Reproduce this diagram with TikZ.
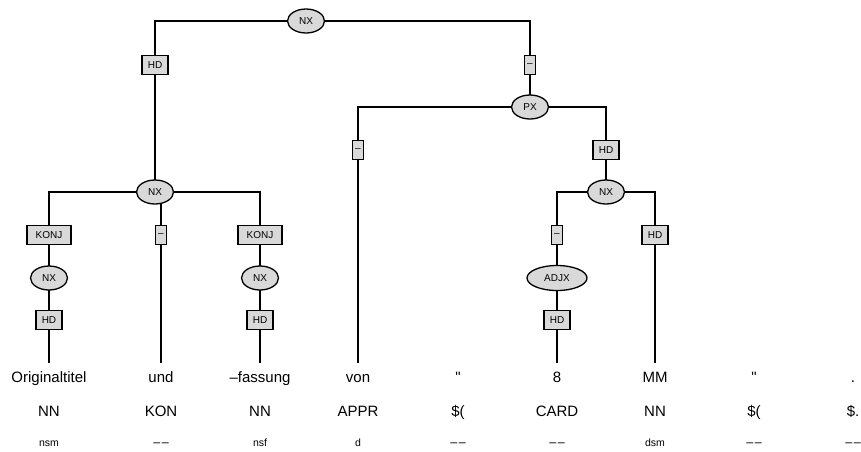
\documentclass[tikz,border=0pt]{standalone}
\usepackage{fontspec}
\setmainfont{Liberation Sans}
\newfontfamily\rawfont{Liberation Sans}[Ligatures=TeXOff]
\usetikzlibrary{shapes.geometric,backgrounds}
\definecolor{gfill}{HTML}{D9D9D9}
\newcommand{\mdash}{{\fontsize{12.5}{14}\selectfont–\kern1.5pt–}}
\tikzset{
  catnode/.style={ellipse, draw, fill=gfill, line width=1.3pt, minimum width=37pt, minimum height=24pt, inner sep=0pt, font=\fontsize{10}{12}\selectfont},
  fnbox/.style={rectangle, draw, fill=gfill, line width=1.3pt, minimum height=19pt, inner sep=0pt, font=\fontsize{10}{12}\selectfont},
  treeedge/.style={line width=1.3pt},
  wordrow/.style={anchor=base, inner xsep=0pt, inner ysep=8pt, text height=11pt, text depth=3pt, font=\fontsize{15}{18}\selectfont},
  posrow/.style={anchor=base, inner sep=0pt, font=\fontsize{15}{18}\selectfont},
  morphrow/.style={anchor=base, inner sep=0pt, font=\fontsize{10.5}{12}\selectfont}
}
\begin{document}
\begin{tikzpicture}[x=1pt,y=-1pt]
\useasboundingbox (0,0) rectangle (861,451);
% words
\node[wordrow] (w1) at (49,382) {Originaltitel};
\node[wordrow] (w2) at (161,382) {und};
\node[wordrow] (w3) at (260,382) {–fassung};
\node[wordrow] (w4) at (358,382) {von};
\node[wordrow] (w5) at (458,382) {\rawfont "};
\node[wordrow] (w6) at (557,382) {8};
\node[wordrow] (w7) at (655,382) {MM};
\node[wordrow] (w8) at (754,382) {\rawfont "};
\node[wordrow] (w9) at (853,382) {.};
% POS
\node[posrow] (p1) at (49,416) {NN};
\node[posrow] (p2) at (161,416) {KON};
\node[posrow] (p3) at (260,416) {NN};
\node[posrow] (p4) at (358,416) {APPR};
\node[posrow] (p5) at (458,416) {\$(};
\node[posrow] (p6) at (557,416) {CARD};
\node[posrow] (p7) at (655,416) {NN};
\node[posrow] (p8) at (754,416) {\$(};
\node[posrow] (p9) at (853,416) {\$.};
% morph
\node[morphrow] (m1) at (49,446) {nsm};
\node[morphrow] (m2) at (161,446) {\mdash};
\node[morphrow] (m3) at (260,446) {nsf};
\node[morphrow] (m4) at (358,446) {d};
\node[morphrow] (m5) at (458,446) {\mdash};
\node[morphrow] (m6) at (557,446) {\mdash};
\node[morphrow] (m7) at (655,446) {dsm};
\node[morphrow] (m8) at (754,446) {\mdash};
\node[morphrow] (m9) at (853,446) {\mdash};
% tree nodes
\node[catnode] (root) at (306,21) {NX};
\node[fnbox, minimum width=26pt] (hd1) at (155,65) {HD};
\node[fnbox, minimum width=11pt] (d1) at (530,65) {–};
\node[catnode] (nxL) at (155,192) {NX};
\node[catnode] (px) at (530,107) {PX};
\node[fnbox, minimum width=44pt] (konj1) at (49,235) {KONJ};
\node[fnbox, minimum width=11pt] (d2) at (161,235) {–};
\node[fnbox, minimum width=44pt] (konj2) at (260,235) {KONJ};
\node[catnode] (nx1) at (49,278) {NX};
\node[catnode] (nx2) at (260,278) {NX};
\node[fnbox, minimum width=26pt] (hd2) at (49,320) {HD};
\node[fnbox, minimum width=26pt] (hd3) at (260,320) {HD};
\node[fnbox, minimum width=11pt] (d3) at (358,150) {–};
\node[fnbox, minimum width=26pt] (hd4) at (606,150) {HD};
\node[catnode] (nxR) at (606,192) {NX};
\node[fnbox, minimum width=11pt] (d4) at (557,235) {–};
\node[fnbox, minimum width=26pt] (hd5) at (655,235) {HD};
\node[catnode, minimum width=60pt, minimum height=25pt] (adjx) at (557,278) {ADJX};
\node[fnbox, minimum width=26pt] (hd6) at (557,320) {HD};
% edges (behind nodes)
\begin{pgfonlayer}{background}
\draw[treeedge] (root.center) -| (hd1.center);
\draw[treeedge] (root.center) -| (d1.center);
\draw[treeedge] (hd1.center) -- (nxL.center);
\draw[treeedge] (d1.center) -- (px.center);
\draw[treeedge] (nxL.center) -| (konj1.center);
\draw[treeedge] (d2.center) -- (d2.center |- nxL.center);
\draw[treeedge] (nxL.center) -| (konj2.center);
\draw[treeedge] (konj1.center) -- (nx1.center);
\draw[treeedge] (nx1.center) -- (hd2.center);
\draw[treeedge] (hd2.center) -- (w1.north);
\draw[treeedge] (d2.center) -- (w2.north);
\draw[treeedge] (konj2.center) -- (nx2.center);
\draw[treeedge] (nx2.center) -- (hd3.center);
\draw[treeedge] (hd3.center) -- (w3.north);
\draw[treeedge] (px.center) -| (d3.center);
\draw[treeedge] (px.center) -| (hd4.center);
\draw[treeedge] (d3.center) -- (w4.north);
\draw[treeedge] (hd4.center) -- (nxR.center);
\draw[treeedge] (nxR.center) -| (d4.center);
\draw[treeedge] (nxR.center) -| (hd5.center);
\draw[treeedge] (d4.center) -- (adjx.center);
\draw[treeedge] (adjx.center) -- (hd6.center);
\draw[treeedge] (hd6.center) -- (w6.north);
\draw[treeedge] (hd5.center) -- (w7.north);
\end{pgfonlayer}
\end{tikzpicture}
\end{document}
